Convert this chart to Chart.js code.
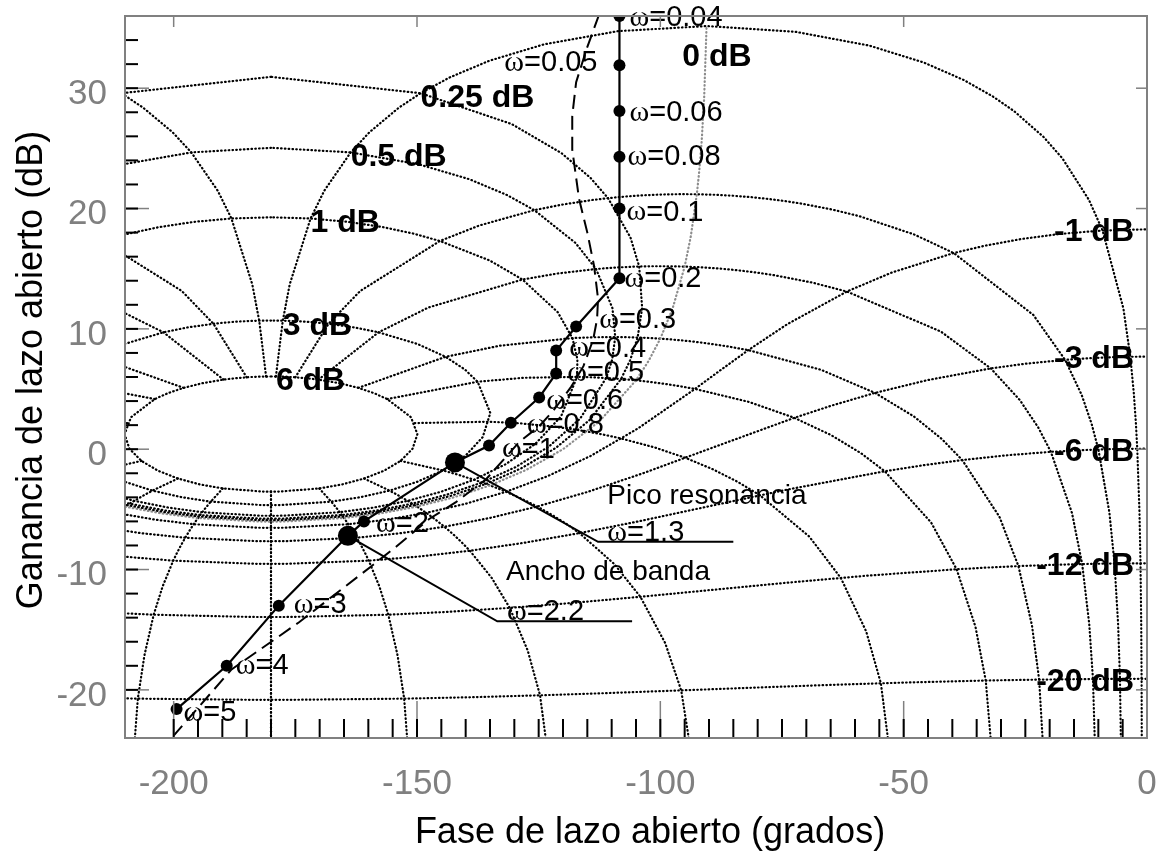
<!DOCTYPE html>
<html>
<head>
<meta charset="utf-8">
<title>Diagrama de Nichols</title>
<script src="https://cdn.jsdelivr.net/npm/chart.js@4.4.1/dist/chart.umd.min.js"></script>
<style>
  html, body { margin: 0; padding: 0; background: #fff; }
  canvas { display: block; }
</style>
</head>
<body>
<canvas id="nichols" width="1160" height="851"></canvas>
<script>
// Open-loop response: frequency, phase (deg) and gain (dB)
const omegaLabels = ['0.04', '0.05', '0.06', '0.08', '0.1', '0.2', '0.3', '0.4', '0.5',
                     '0.6', '0.8', '1', '1.3', '2', '2.2', '3', '4', '5'];
const openPhase = [-108.4, -108.4, -108.4, -108.4, -108.4, -108.4, -117.3, -121.4, -121.4,
                   -124.9, -130.7, -135.2, -142.2, -160.9, -164.2, -178.4, -189.1, -199.4];
const openGain = [36.0, 31.9, 28.1, 24.3, 20.0, 14.2, 10.2, 8.2, 6.3,
                  4.3, 2.2, 0.3, -1.1, -6.0, -7.2, -13.0, -18.0, -21.6];
const peakIndex = 12;   // resonance peak
const bandIndex = 14;   // bandwidth

// Second response, dashed
const dashedPhase = [-112.6, -115.2, -117.3, -118.1, -118.1, -116.7, -115.0, -113.6, -112.8, -113.0,
                     -113.8, -115.8, -118.3, -121.8, -124.9, -129.0, -135.8, -142.0, -147.5, -154.3,
                     -159.3, -174.3, -188.1, -200.0];
const dashedGain = [36.1, 33.2, 30.5, 27.7, 24.9, 20.8, 18.0, 15.2, 12.5, 10.8,
                    9.1, 6.9, 5.2, 3.3, 1.9, 0.6, -2.5, -4.4, -5.8, -8.1,
                    -9.7, -14.4, -18.3, -23.8];

// Leader lines of the two notes: elbow and end points
const peakLeaderPhase = [-112.8, -85.0];
const peakLeaderGain = [-7.7, -7.7];
const bandLeaderPhase = [-133.5, -105.8];
const bandLeaderGain = [-14.3, -14.3];

// Nichols grid: closed-loop gain lines (dB) and phase lines (deg)
const gainLinesDb = [6, 3, 1, 0.5, 0.25, 0, -1, -3, -6, -12, -20];
const phaseLinesDeg = [1, 5, 10, 20, 30, 50, 90, 120, 150, 180];
const gainLineSteps = [0, 1, 2, 3, 4, 5, 7.5, 10, 15, 20, 25, 30, 45, 60, 75, 90, 105, 120, 135, 150, 175, 180];
const phaseLineSteps = [6, 3, 2, 1, .75, .5, .4, .3, .25, .2, .15, .1, .05, 0, -.05, -.1, -.15, -.2, -.25,
                        -.3, -.4, -.5, -.75, -1, -2, -3, -4, -5, -6, -9, -12, -16, -20, -30, -40, -50, -60];

const phaseTicks = [-200, -150, -100, -50, 0];
const gainTicks = [-20, -10, 0, 10, 20, 30];

// label offsets in px from each marker: [dx, dy, align]
const omegaLabelOffsets = [[10, 2], [-22, -2, 'right'], [10, 2], [8, 0], [7, 4], [5, 1], [23, -6], [13, -2],
                           [11, 0], [7, 4], [16, 2], [13, 4], null, [12, 3], null, [15, -1], [9, 0], [7, 4]];

const notes = [
  { text: 'Pico resonancia', x: -110.9, y: -3.9 },
  { text: 'ω=' + omegaLabels[peakIndex], x: -110.9, y: -7.0 },
  { text: 'Ancho de banda', x: -131.7, y: -10.2 },
  { text: 'ω=' + omegaLabels[bandIndex], x: -131.5, y: -13.5 }
];

// closed loop T = m e^{j phi}  ->  open loop G = T / (1 - T), phase wrapped into [-360, 0)
function openLoop(db, deg) {
  const m = Math.pow(10, db / 20), p = deg * Math.PI / 180;
  const re = m * Math.cos(p), im = m * Math.sin(p);
  const dre = 1 - re;
  const den = dre * dre + im * im;
  const gre = (re * dre - im * im) / den;
  const gim = im / den;
  let ph = Math.atan2(gim, gre) * 180 / Math.PI;
  ph = ((ph % 360) + 360) % 360 - 360;
  return { x: ph, y: 20 * Math.log10(Math.hypot(gre, gim)) };
}
const mirror = p => ({ x: -360 - p.x, y: p.y });
const finite = p => isFinite(p.x) && isFinite(p.y);

const dotted = (data, color) => ({
  data, showLine: true, pointRadius: 0, borderColor: color, borderWidth: 2.2,
  borderCapStyle: 'round', borderDash: [0.6, 3.2], order: 5
});

const gridSets = [];
gainLinesDb.forEach(db => {
  const left = gainLineSteps.map(s => openLoop(db, s)).filter(finite);
  const right = left.map(mirror).reverse();
  gridSets.push(dotted(left.concat(right), db === 0 ? '#8c8c8c' : '#000'));
});
phaseLinesDeg.forEach(deg => {
  const left = phaseLineSteps.map(g => openLoop(g, deg)).filter(finite);
  gridSets.push(dotted(left, '#000'));
  gridSets.push(dotted(left.map(mirror), '#000'));
});

const pts = (xs, ys) => xs.map((v, i) => ({ x: v, y: ys[i] }));

const datasets = [
  {
    data: pts(openPhase, openGain), showLine: true, borderColor: '#000', borderWidth: 2.2,
    pointBackgroundColor: '#000', pointBorderWidth: 0,
    pointRadius: openPhase.map((_, i) => (i === peakIndex || i === bandIndex) ? 10 : 6), order: 0
  },
  {
    data: [{ x: openPhase[peakIndex], y: openGain[peakIndex] }].concat(pts(peakLeaderPhase, peakLeaderGain)),
    showLine: true, pointRadius: 0, borderColor: '#000', borderWidth: 2, order: 1
  },
  {
    data: [{ x: openPhase[bandIndex], y: openGain[bandIndex] }].concat(pts(bandLeaderPhase, bandLeaderGain)),
    showLine: true, pointRadius: 0, borderColor: '#000', borderWidth: 2, order: 1
  },
  {
    data: pts(dashedPhase, dashedGain), showLine: true, pointRadius: 0, borderColor: '#000',
    borderWidth: 2, borderDash: [14, 7], order: 2
  }
].concat(gridSets);

function omegaText(ctx, text, x, y, align) {
  const rest = text.slice(1);
  ctx.font = '30px "Liberation Serif"';
  const w1 = ctx.measureText('ω').width;
  ctx.font = '29px "Liberation Sans"';
  const w2 = ctx.measureText(rest).width;
  const x0 = align === 'right' ? x - w1 - w2 : x;
  ctx.textAlign = 'left';
  ctx.font = '30px "Liberation Serif"';
  ctx.fillText('ω', x0, y);
  ctx.font = '29px "Liberation Sans"';
  ctx.fillText(rest, x0 + w1, y);
}

const decor = {
  id: 'decor',
  afterDatasetsDraw(chart) {
    const { ctx, chartArea: a, scales: { x, y } } = chart;
    const seg = (x1, y1, x2, y2) => { ctx.beginPath(); ctx.moveTo(x1, y1); ctx.lineTo(x2, y2); ctx.stroke(); };
    ctx.save();
    ctx.fillStyle = '#000';
    ctx.textBaseline = 'middle';

    // grid level labels
    ctx.font = 'bold 32px "Liberation Sans"';
    gainLinesDb.forEach(db => {
      if (db > 0) {
        const p = mirror(openLoop(db, 1));
        ctx.textAlign = 'left';
        ctx.fillText(db + ' dB', x.getPixelForValue(p.x), y.getPixelForValue(p.y) + 5);
      } else if (db < 0) {
        const p = mirror(openLoop(db, 0));
        ctx.textAlign = 'right';
        ctx.fillText(db + ' dB', x.getPixelForValue(p.x) - 13, y.getPixelForValue(p.y) + 3);
      } else {
        ctx.textAlign = 'left';
        ctx.fillText('0 dB', x.getPixelForValue(-95.5), y.getPixelForValue(32.6));
      }
    });

    // frequency labels
    omegaLabels.forEach((w, i) => {
      const off = omegaLabelOffsets[i];
      if (!off) return;
      const px = x.getPixelForValue(openPhase[i]) + off[0];
      const py = y.getPixelForValue(openGain[i]) + off[1];
      omegaText(ctx, 'ω=' + w, px, py, off[2]);
    });

    notes.forEach(n => {
      const px = x.getPixelForValue(n.x), py = y.getPixelForValue(n.y);
      if (n.text[0] === 'ω') omegaText(ctx, n.text, px, py);
      else {
        ctx.font = '28px "Liberation Sans"';
        ctx.textAlign = 'left';
        ctx.fillText(n.text, px, py);
      }
    });

    // major ticks (grey), then minor ticks (black)
    ctx.strokeStyle = '#808080';
    ctx.lineWidth = 1.5;
    phaseTicks.forEach(v => {
      const px = x.getPixelForValue(v);
      seg(px, a.bottom, px, a.bottom - 37);
      seg(px, a.top, px, a.top + 11);
    });
    gainTicks.forEach(v => {
      const py = y.getPixelForValue(v);
      seg(a.left, py, a.left + 24, py);
      seg(a.right, py, a.right - 11, py);
    });
    ctx.strokeStyle = '#000';
    ctx.lineWidth = 2;
    for (let v = -200; v <= 0; v += 5) {
      const px = x.getPixelForValue(v);
      seg(px, a.bottom, px, a.bottom - 19);
    }
    for (let v = -20; v <= 36; v += 2) {
      const py = y.getPixelForValue(v);
      seg(a.left, py, a.left + 13, py);
    }
    ctx.strokeStyle = '#808080';
    ctx.lineWidth = 2;
    ctx.strokeRect(a.left, a.top, a.right - a.left, a.bottom - a.top);

    // axis titles
    ctx.fillStyle = '#000';
    ctx.font = '36px "Liberation Sans"';
    ctx.textAlign = 'center';
    ctx.textBaseline = 'alphabetic';
    ctx.fillText('Fase de lazo abierto (grados)', 650, 843);
    ctx.translate(42, 370);
    ctx.rotate(-Math.PI / 2);
    ctx.fillText('Ganancia de lazo abierto (dB)', 0, 0);
    ctx.restore();
  }
};

const tickFont = { family: '"Liberation Sans", Arial, sans-serif', size: 35 };

new Chart(document.getElementById('nichols'), {
  type: 'scatter',
  data: { datasets },
  options: {
    responsive: false,
    animation: false,
    events: [],
    layout: { padding: { top: 16, right: 13, left: 0, bottom: 0 } },
    plugins: { legend: { display: false }, tooltip: { enabled: false } },
    scales: {
      x: {
        type: 'linear', min: -210, max: 0,
        grid: { display: false }, border: { display: false },
        afterBuildTicks: axis => { axis.ticks = phaseTicks.map(v => ({ value: v })); },
        afterFit: axis => { axis.height = 113; axis.paddingLeft = 0; axis.paddingRight = 0; },
        ticks: { color: '#808080', font: tickFont, padding: 17, maxRotation: 0, autoSkip: false }
      },
      y: {
        type: 'linear', min: -24, max: 36,
        grid: { display: false }, border: { display: false },
        afterBuildTicks: axis => { axis.ticks = gainTicks.map(v => ({ value: v })); },
        afterFit: axis => { axis.width = 125; axis.paddingTop = 0; axis.paddingBottom = 0; },
        ticks: { color: '#808080', font: tickFont, padding: 10, labelOffset: 6, autoSkip: false }
      }
    }
  },
  plugins: [decor]
});
</script>
</body>
</html>
